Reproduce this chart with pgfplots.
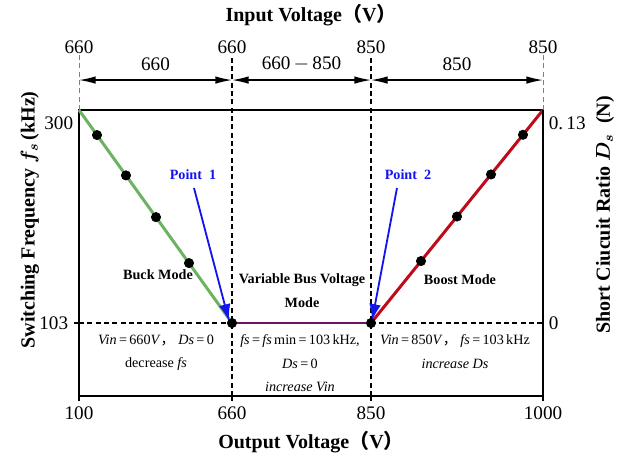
\documentclass[border=0pt]{standalone}
\usepackage{pgfplots}
\pgfplotsset{compat=1.18}
\usepackage{fontspec}
\setmainfont{Liberation Serif}
\newfontfamily\cjk{Noto Sans CJK SC}
\usetikzlibrary{arrows.meta}
\definecolor{buckgreen}{RGB}{108,178,98}
\definecolor{boostred}{RGB}{190,10,25}
\definecolor{busviolet}{RGB}{110,20,100}
\definecolor{ptblue}{RGB}{20,20,240}

\newcommand{\lp}{{\cjk （}}
\newcommand{\rp}{{\cjk ）}}
\newcommand{\fc}{{\cjk ，}}
\newcommand{\eq}{\,=\,}

\begin{document}
\begin{tikzpicture}
\useasboundingbox (-47.4pt,-36.6pt) rectangle (330.6pt,237.6pt);
\begin{axis}[
 scale only axis,
 width=278.4pt, height=171.6pt,
 xmin=0, xmax=464, ymin=35.5, ymax=300,
 xtick={0,153,292,464}, xticklabels={100,660,850,1000},
 ytick={103}, yticklabels={103},
 extra y ticks={300}, extra y tick labels={300},
 extra y tick style={major tick length=0pt, tick label style={yshift=-8pt}},
 xtick pos=left, ytick pos=left,
 tick align=outside, major tick length=3pt,
 tick style={black, line width=0.8pt},
 axis line style={line width=1.2pt},
 tick label style={font=\fontsize{11.5}{13}\selectfont},
 clip=false,
]
% guide lines
\addplot[black, densely dashed, line width=0.7pt] coordinates {(0,103) (464,103)};
\addplot[black, densely dashed, line width=0.7pt] coordinates {(153,35.5) (153,350.9)};
\addplot[black, densely dashed, line width=0.7pt] coordinates {(292,35.5) (292,350.9)};
\addplot[gray, densely dashed, line width=0.5pt] coordinates {(0,300) (0,350.9)};
\addplot[gray, densely dashed, line width=0.5pt] coordinates {(464,300) (464,350.9)};

% operating curves
\addplot[buckgreen, line width=1.8pt] coordinates {(0,300) (153,103)};
\addplot[busviolet, line width=1.5pt] coordinates {(153,103) (292,103)};
\addplot[boostred, line width=1.8pt] coordinates {(292,103) (464,300)};
\addplot[only marks, mark=*, mark size=2.8pt, black] coordinates {
 (18,276.8) (47,239.5) (77,200.9) (110,158.4)
 (153,103) (292,103)
 (342,160.3) (378,201.5) (412,240.4) (444,277.1)};

% point arrows
\draw[ptblue, line width=1.1pt, -{Latex[length=10pt,width=7pt]}] (axis cs:115,227.9) -- (axis cs:150,105);
\draw[ptblue, line width=1.1pt, -{Latex[length=10pt,width=7pt]}] (axis cs:318,227.9) -- (axis cs:293,105);
\node[ptblue, font=\fontsize{8.5}{10}\selectfont\bfseries] at (axis cs:114,239.9) {Point\ \ 1};
\node[ptblue, font=\fontsize{8.5}{10}\selectfont\bfseries] at (axis cs:329,239.9) {Point\ \ 2};

% mode names
\node[font=\fontsize{8.5}{10}\selectfont\bfseries] at (axis cs:79,147.4) {Buck Mode};
\node[font=\fontsize{8.5}{10}\selectfont\bfseries] at (axis cs:223,142.8) {Variable Bus Voltage};
\node[font=\fontsize{8.5}{10}\selectfont\bfseries] at (axis cs:223,121.5) {Mode};
\node[font=\fontsize{8.5}{10}\selectfont\bfseries] at (axis cs:381,142.8) {Boost Mode};

% conditions
\node[font=\fontsize{8.5}{10}\selectfont] at (axis cs:77,86.4) {\textit{Vin}\eq660\textit{V}\fc\ \textit{Ds}\eq0};
\node[font=\fontsize{8.5}{10}\selectfont] at (axis cs:77,65.1) {decrease \textit{fs}};
\node[font=\fontsize{8.5}{10}\selectfont] at (axis cs:221,86.4) {\textit{fs}\eq\textit{fs}\,min\eq103\,kHz,};
\node[font=\fontsize{8.5}{10}\selectfont] at (axis cs:221,65.1) {\textit{Ds}\eq0};
\node[font=\fontsize{8.5}{10}\selectfont\itshape] at (axis cs:221,43.8) {increase Vin};
\node[font=\fontsize{8.5}{10}\selectfont] at (axis cs:376,86.4) {\textit{Vin}\eq850\textit{V}\fc\ \textit{fs}\eq103\,kHz};
\node[font=\fontsize{8.5}{10}\selectfont\itshape] at (axis cs:376,65.1) {increase Ds};

% input voltage ruler
\draw[line width=0.8pt, {Latex[length=10pt,width=4.5pt]}-{Latex[length=10pt,width=4.5pt]}] (axis cs:0,327.7) -- (axis cs:153,327.7);
\draw[line width=0.8pt, {Latex[length=10pt,width=4.5pt]}-{Latex[length=10pt,width=4.5pt]}] (axis cs:153,327.7) -- (axis cs:292,327.7);
\draw[line width=0.8pt, {Latex[length=10pt,width=4.5pt]}-{Latex[length=10pt,width=4.5pt]}] (axis cs:292,327.7) -- (axis cs:464,327.7);
\node[font=\fontsize{11.5}{13}\selectfont] at (axis cs:76.5,342.5) {660};
\node[font=\fontsize{11.5}{13}\selectfont] at (axis cs:222.5,342.5) {660\,$-$\,850};
\node[font=\fontsize{11.5}{13}\selectfont] at (axis cs:378,342.5) {850};
\node[font=\fontsize{11.5}{13}\selectfont] at (axis cs:0,358.5) {660};
\node[font=\fontsize{11.5}{13}\selectfont] at (axis cs:153,358.5) {660};
\node[font=\fontsize{11.5}{13}\selectfont] at (axis cs:292,358.5) {850};
\node[font=\fontsize{11.5}{13}\selectfont] at (axis cs:464,358.5) {850};

% axis titles
\node[font=\fontsize{12}{14}\selectfont\bfseries] at (axis cs:232,387.9) {Input Voltage\lp V\rp};
\node[font=\fontsize{12}{14}\selectfont\bfseries] at (axis cs:232,-7.1) {Output Voltage\lp V\rp};
\node[rotate=90, font=\fontsize{12}{14}\selectfont\bfseries] at (axis cs:-49,198.3) {Switching Frequency {\boldmath$f_s$}\,(kHz)};
\node[rotate=90, font=\fontsize{12}{14}\selectfont\bfseries] at (axis cs:526,202.9) {Short Ciucuit Ratio {\boldmath$D_s$}\ \ (N)};
\end{axis}

\begin{axis}[
 scale only axis,
 width=278.4pt, height=171.6pt,
 xmin=0, xmax=464, ymin=-0.04455, ymax=0.13,
 axis x line=none, axis y line*=right,
 ytick={0}, yticklabels={0},
 extra y ticks={0.13}, extra y tick labels={0.\,13},
 extra y tick style={tick label style={yshift=-8pt}},
 tick align=outside, major tick length=0pt,
 axis line style={line width=1.2pt, -},
 tick label style={font=\fontsize{11.5}{13}\selectfont},
]
\end{axis}
\end{tikzpicture}
\end{document}
